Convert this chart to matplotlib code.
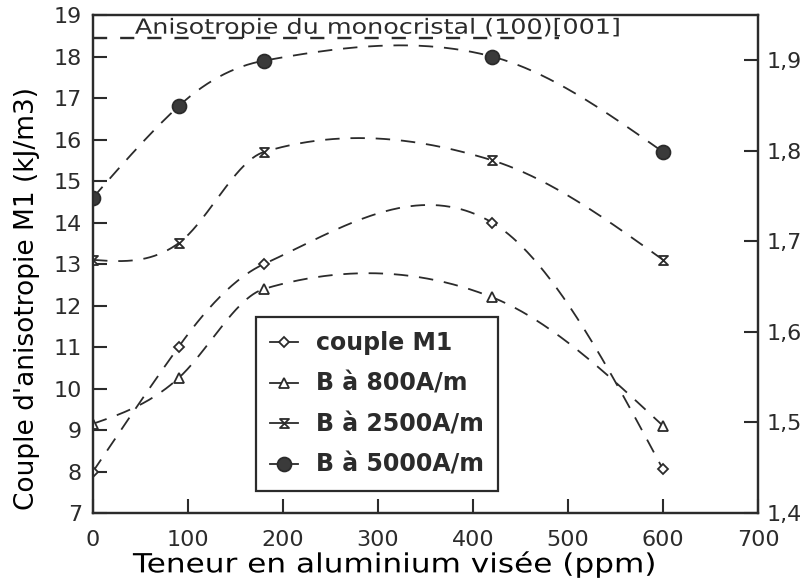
import numpy as np
import matplotlib.pyplot as plt
from matplotlib.path import Path
from matplotlib.lines import Line2D
from matplotlib.transforms import Affine2D
from matplotlib import patheffects

# aluminium content (ppm)
teneur = [0, 90, 180, 420, 600]

# torque / field values (kJ/m3)
couple_m1 = [8.0, 11.0, 13.0, 14.0, 8.05]
b_800 = [9.15, 10.25, 12.4, 12.2, 9.1]
b_2500 = [13.1, 13.5, 15.7, 15.5, 13.1]
b_5000 = [14.6, 16.8, 17.9, 18.0, 15.7]

mono_value = 18.45
mono_label = "Anisotropie du monocristal (100)[001]"

labels = ["couple M1", "B à 800A/m", "B à 2500A/m", "B à 5000A/m"]


def smooth_curve(x, y, xs, tension=1.15):
    # cardinal Hermite spline, free ends (zero curvature)
    x = np.asarray(x, float)
    y = np.asarray(y, float)
    n = len(x)
    m = np.zeros(n)
    m[1:-1] = tension * (y[2:] - y[:-2]) / (x[2:] - x[:-2])
    m[0] = (3 * (y[1] - y[0]) / (x[1] - x[0]) - m[1]) / 2
    m[-1] = (3 * (y[-1] - y[-2]) / (x[-1] - x[-2]) - m[-2]) / 2
    k = np.clip(np.searchsorted(x, xs) - 1, 0, n - 2)
    h = x[k + 1] - x[k]
    t = (xs - x[k]) / h
    h00 = 2 * t**3 - 3 * t**2 + 1
    h10 = t**3 - 2 * t**2 + t
    h01 = -2 * t**3 + 3 * t**2
    h11 = t**3 - t**2
    return h00 * y[k] + h10 * h * m[k] + h01 * y[k + 1] + h11 * h * m[k + 1]


class Stretch(patheffects.AbstractPathEffect):
    """Widen a text along its baseline, about the centre of the text."""

    def __init__(self, text, factor):
        super().__init__()
        self.text = text
        self.factor = factor

    def draw_path(self, renderer, gc, tpath, affine, rgbFace=None):
        bb = self.text.get_window_extent(renderer)
        cx, cy = (bb.x0 + bb.x1) / 2, (bb.y0 + bb.y1) / 2
        extra = Affine2D().translate(-cx, -cy).scale(self.factor, 1).translate(cx, cy)
        renderer.draw_path(gc, tpath, affine + extra, rgbFace)


ink = '#2b2b2b'
plt.rcParams['font.family'] = ['DejaVu Sans']
plt.rcParams['text.color'] = ink

hourglass = Path([(-1, 1), (1, 1), (-1, -1), (1, -1), (-1, 1)],
                 [Path.MOVETO, Path.LINETO, Path.LINETO, Path.LINETO, Path.CLOSEPOLY])

series = [
    (couple_m1, dict(marker='D', markersize=5, markerfacecolor='white')),
    (b_800, dict(marker='^', markersize=7.5, markerfacecolor='white')),
    (b_2500, dict(marker=hourglass, markersize=6.5, markerfacecolor='white')),
    (b_5000, dict(marker='o', markersize=10, markerfacecolor='#3a3a3a')),
]

fig = plt.figure(figsize=(8.06, 5.8), dpi=100)
ax = fig.add_axes([0.1154, 0.1155, 0.8251, 0.8586])

xs = np.linspace(0, 600, 400)
handles = []
for vals, mk in series:
    ax.plot(xs, smooth_curve(teneur, vals, xs), color=ink, lw=1.3,
            dashes=(8, 6), zorder=2)
    ax.plot(teneur, vals, linestyle='none', color=ink,
            markeredgecolor=ink, markeredgewidth=1.3, zorder=3, **mk)
    handles.append(Line2D([], [], color=ink, lw=1.3, markeredgecolor=ink,
                          markeredgewidth=1.3, **mk))

ax.plot([0, 490], [mono_value, mono_value], color=ink, lw=1.7, dashes=(6, 5.5))
mono = ax.text(300, 18.55, mono_label, fontsize=15, ha='center', va='baseline',
               color=ink)
mono.set_path_effects([Stretch(mono, 1.22)])

ax.set_xlim(0, 700)
ax.set_ylim(7, 19)
ax.set_xticks(range(0, 701, 100))
ax.set_yticks(range(7, 20))
ax.tick_params(direction='in', length=10, width=1.5, labelsize=16, colors=ink)
ax.tick_params(axis='x', pad=12)
ax.tick_params(axis='y', pad=8)
for s in ax.spines.values():
    s.set_linewidth(1.6)
    s.set_color(ink)

xl = ax.set_xlabel("Teneur en aluminium visée (ppm)", fontsize=19)
ax.set_ylabel("Couple d'anisotropie M1 (kJ/m3)", fontsize=19)
ax.xaxis.set_label_coords(0.454, -0.075)
ax.yaxis.set_label_coords(-0.08, 0.43)
xl.set_path_effects([Stretch(xl, 1.18)])

ax2 = ax.twinx()
ax2.set_ylim(1.4, 1.95)
ax2.set_yticks([1.4, 1.5, 1.6, 1.7, 1.8, 1.9])
ax2.set_yticklabels(['1,4', '1,5', '1,6', '1,7', '1,8', '1,9'])
ax2.tick_params(direction='in', length=10, width=1.5, labelsize=16, colors=ink,
                pad=6)
for s in ax2.spines.values():
    s.set_linewidth(1.6)
    s.set_color(ink)

leg = ax.legend(handles, labels, loc='lower left',
                bbox_to_anchor=(0.245, 0.044), borderaxespad=0, fontsize=17,
                handlelength=1.2, handletextpad=0.75, labelspacing=0.7,
                borderpad=0.6, fancybox=False, framealpha=1,
                edgecolor=ink)
leg.get_frame().set_linewidth(1.6)
for t in leg.get_texts():
    t.set_fontweight('bold')
    t.set_color(ink)

fig.savefig('out.png', dpi=100, facecolor='white')
